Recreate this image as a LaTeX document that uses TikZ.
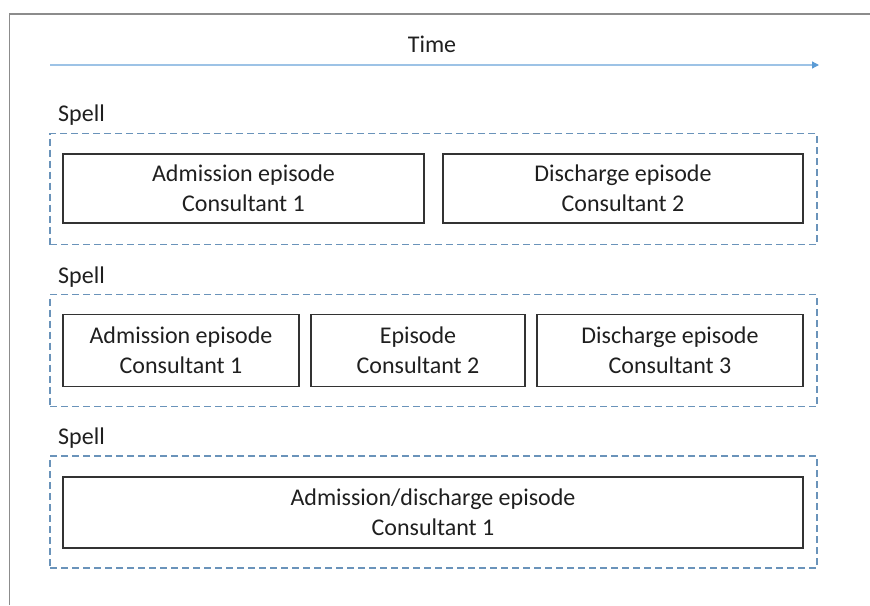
\documentclass[tikz,border=0pt]{standalone}
\usepackage{fontspec}
\setmainfont{Carlito}
\usetikzlibrary{arrows.meta}
\definecolor{frameg}{HTML}{8C8C8C}
\definecolor{arrowb}{HTML}{9DC3E6}
\definecolor{arrowh}{HTML}{5B9BD5}
\definecolor{spellb}{HTML}{6A93BA}
\definecolor{txt}{HTML}{1F1F1F}
\definecolor{epb}{HTML}{333333}
\tikzset{
  ep/.style={draw=epb, line width=1.6pt, align=center, text=txt, font=\fontsize{24}{30}\selectfont, inner sep=0pt},
  spellbox/.style={draw=spellb, line width=1.4pt, dash pattern=on 7pt off 4pt, inner sep=0pt},
  lbl/.style={text=txt, font=\fontsize{24}{30}\selectfont, inner sep=0pt},
}
\begin{document}
\begin{tikzpicture}[x=1pt,y=-1pt]
\useasboundingbox (0,0) rectangle (870,605);
% frame
\coordinate (f1) at (9.5,605);
\coordinate (f2) at (9.5,14);
\coordinate (f3) at (870,14);
\draw[frameg, line width=1.5pt] (f1) -- (f2) -- (f3);
% time arrow
\node[lbl, anchor=base] (time) at (432,52.5) {Time};
\coordinate (ts) at (50,65);
\coordinate (te) at (819,65);
\draw[arrowb, line width=1.3pt, -{Triangle[length=7pt,width=7pt,fill=arrowh,color=arrowh]}] (ts) -- (te);
% row 1
\node[lbl, anchor=base west] (s1) at (58,121) {Spell};
\node[spellbox, minimum width=767pt, minimum height=111pt] (sp1) at (433.5,189) {};
\node[ep, minimum width=361pt, minimum height=69pt] (a1) at (243.5,188.5) {Admission episode\\Consultant 1};
\node[ep, minimum width=360pt, minimum height=69pt] (d1) at (623,188.5) {Discharge episode\\Consultant 2};
% row 2
\node[lbl, anchor=base west] (s2) at (58,283) {Spell};
\node[spellbox, minimum width=767pt, minimum height=112pt] (sp2) at (433.5,350.5) {};
\node[ep, minimum width=236pt, minimum height=72pt] (a2) at (181,350.5) {Admission episode\\Consultant 1};
\node[ep, minimum width=214pt, minimum height=72pt] (e2) at (418,350.5) {Episode\\Consultant 2};
\node[ep, minimum width=266pt, minimum height=72pt] (d2) at (670,350.5) {Discharge episode\\Consultant 3};
% row 3
\node[lbl, anchor=base west] (s3) at (58,444) {Spell};
\node[spellbox, minimum width=767pt, minimum height=112pt] (sp3) at (433.5,512) {};
\node[ep, minimum width=740pt, minimum height=71pt] (a3) at (433,512.5) {Admission/discharge episode\\Consultant 1};
\end{tikzpicture}
\end{document}
